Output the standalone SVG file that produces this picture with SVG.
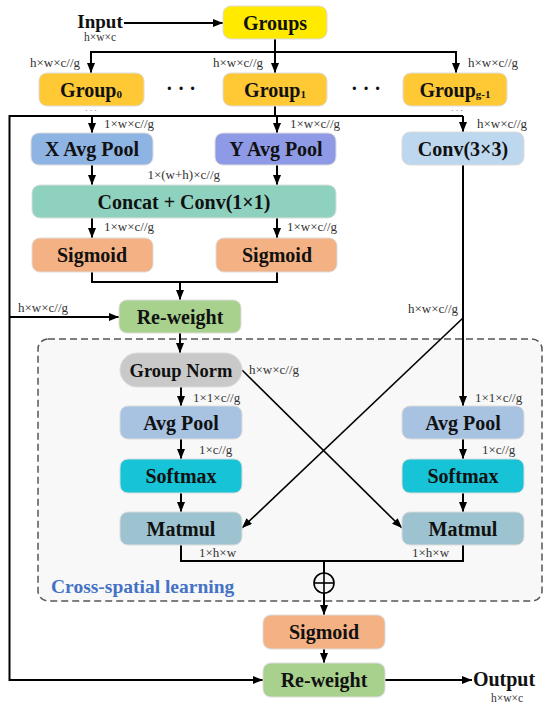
<svg xmlns="http://www.w3.org/2000/svg" width="550" height="706" viewBox="0 0 550 706">
<defs>
<marker id="ah" viewBox="0 0 10 8" refX="10" refY="4" markerWidth="10" markerHeight="8" markerUnits="userSpaceOnUse" orient="auto"><path d="M0,0L10,4L0,8z" fill="#000"/></marker>
<style>
.box{stroke:#dcdcdc;stroke-width:1}
.t{font-family:"Liberation Serif","Times New Roman",serif;font-weight:bold;font-size:20px;text-anchor:middle;fill:#111}
.s{font-family:"Liberation Serif","Times New Roman",serif;font-size:13px;fill:#333}
.c{fill:none;stroke:#000;stroke-width:2}
.cx{fill:none;stroke:#000;stroke-width:1.6}
.a{marker-end:url(#ah)}
</style>
</defs>
<rect width="550" height="706" fill="#fff"/>
<g id="cross-spatial">
<rect x="38" y="339" width="504" height="262" rx="10" fill="#f8f8f8" stroke="#555" stroke-width="1.5" stroke-dasharray="7,4"/>
<text x="51" y="593" font-family="Liberation Serif,serif" font-weight="bold" font-size="19.5" fill="#4472c4">Cross-spatial learning</text>
</g>
<g id="connectors">
<line class="c a" x1="124" y1="23" x2="223" y2="23"/>
<polyline class="c" points="275,39 275,52"/>
<polyline class="c" points="91,71 91,52 456,52 456,71"/>
<line class="c a" x1="91" y1="52" x2="91" y2="73"/>
<line class="c a" x1="275" y1="52" x2="275" y2="73"/>
<line class="c a" x1="456" y1="52" x2="456" y2="73"/>
<polyline class="c" points="275,106 275,116"/>
<polyline class="c" points="9.5,116 463,116"/>
<line class="c a" x1="92" y1="116" x2="92" y2="133"/>
<line class="c a" x1="277" y1="116" x2="277" y2="133"/>
<line class="c a" x1="463" y1="116" x2="463" y2="132"/>
<line class="c a" x1="92" y1="165" x2="92" y2="185"/>
<line class="c a" x1="277" y1="165" x2="277" y2="185"/>
<line class="c a" x1="92" y1="218" x2="92" y2="238"/>
<line class="c a" x1="277" y1="218" x2="277" y2="238"/>
<polyline class="c" points="92,272 92,282 277,282 277,272"/>
<line class="c a" x1="180" y1="282" x2="180" y2="300"/>
<polyline class="c" points="9.5,115 9.5,680 263,680"/>
<line class="c a" x1="200" y1="680" x2="263" y2="680"/>
<line class="c a" x1="9.5" y1="317" x2="119" y2="317"/>
<line class="c a" x1="180" y1="333" x2="180" y2="353"/>
<line class="c a" x1="181" y1="387" x2="181" y2="406"/>
<line class="c a" x1="181" y1="439" x2="181" y2="459"/>
<line class="c a" x1="181" y1="493" x2="181" y2="512"/>
<line class="c a" x1="463" y1="165" x2="463" y2="406"/>
<line class="c a" x1="463" y1="439" x2="463" y2="459"/>
<line class="c a" x1="463" y1="493" x2="463" y2="512"/>
<line class="cx a" x1="242" y1="370" x2="402" y2="528"/>
<line class="cx a" x1="463" y1="318" x2="242" y2="528"/>
<polyline class="c" points="181,545 181,561 463,561 463,545"/>
<line class="c" x1="324" y1="561" x2="324" y2="573"/>
<circle cx="324" cy="583" r="10" fill="none" stroke="#000" stroke-width="1.6"/>
<line x1="314" y1="583" x2="334" y2="583" stroke="#000" stroke-width="1.6"/>
<line x1="324" y1="573" x2="324" y2="593" stroke="#000" stroke-width="1.6"/>
<line class="c a" x1="324" y1="593" x2="324" y2="615"/>
<line class="c a" x1="324" y1="649" x2="324" y2="663"/>
<line class="c a" x1="385" y1="680" x2="472" y2="680"/>
</g>
<g id="labels">
<text class="t" x="100" y="28" style="font-size:19px">Input</text>
<text class="s" x="100" y="40.5" text-anchor="middle" style="font-size:11.5px">h×w×c</text>
<text class="s" x="30" y="67">h×w×c//g</text>
<text class="s" x="213" y="67">h×w×c//g</text>
<text class="s" x="468" y="67">h×w×c//g</text>
<text class="t" x="181" y="95">· · ·</text>
<text class="t" x="366" y="95">· · ·</text>
<text class="s" x="91" y="113" text-anchor="middle" style="font-size:8px">· · ·</text>
<text class="s" x="457" y="113" text-anchor="middle" style="font-size:8px">· · ·</text>
<text class="s" x="104" y="128">1×w×c//g</text>
<text class="s" x="290" y="128">1×w×c//g</text>
<text class="s" x="477" y="128">h×w×c//g</text>
<text class="s" x="220" y="179" text-anchor="end">1×(w+h)×c//g</text>
<text class="s" x="104" y="231">1×w×c//g</text>
<text class="s" x="287" y="231">1×w×c//g</text>
<text class="s" x="18" y="312">h×w×c//g</text>
<text class="s" x="408" y="313">h×w×c//g</text>
<text class="s" x="249" y="374">h×w×c//g</text>
<text class="s" x="193" y="402">1×1×c//g</text>
<text class="s" x="475" y="402">1×1×c//g</text>
<text class="s" x="199" y="454">1×c//g</text>
<text class="s" x="482" y="454">1×c//g</text>
<text class="s" x="199" y="557">1×h×w</text>
<text class="s" x="412" y="557">1×h×w</text>
<text class="t" x="504" y="686">Output</text>
<text class="s" x="507" y="702" text-anchor="middle" style="font-size:11.5px">h×w×c</text>
</g>
<g id="groups"><rect class="box" x="223" y="6" width="104" height="33" rx="8" fill="#ffea00"/><text class="t" x="275" y="29.5">Groups</text></g>
<g id="group0"><rect class="box" x="39" y="73" width="105" height="33" rx="8" fill="#ffc936"/><text class="t" x="91" y="96.5">Group<tspan style="font-size:11px" dy="1">0</tspan></text></g>
<g id="group1"><rect class="box" x="223" y="73" width="104" height="33" rx="8" fill="#ffc936"/><text class="t" x="275" y="96.5">Group<tspan style="font-size:11px" dy="1">1</tspan></text></g>
<g id="groupg1"><rect class="box" x="403" y="73" width="104" height="33" rx="8" fill="#ffc936"/><text class="t" x="455" y="96.5">Group<tspan style="font-size:11px" dy="1">g-1</tspan></text></g>
<g id="xavgpool"><rect class="box" x="31" y="133" width="122" height="32" rx="8" fill="#8eb4e3"/><text class="t" x="92" y="156">X Avg Pool</text></g>
<g id="yavgpool"><rect class="box" x="215" y="133" width="121" height="32" rx="8" fill="#8f9ae6"/><text class="t" x="276" y="156">Y Avg Pool</text></g>
<g id="conv3"><rect class="box" x="402" y="132" width="122" height="33" rx="8" fill="#bdd7ee"/><text class="t" x="463" y="155.5">Conv(3×3)</text></g>
<g id="concat"><rect class="box" x="32" y="185" width="304" height="33" rx="8" fill="#8fd1bf"/><text class="t" x="184" y="208.5">Concat + Conv(1×1)</text></g>
<g id="sigmoid1"><rect class="box" x="32" y="238" width="121" height="34" rx="8" fill="#f4b183"/><text class="t" x="92" y="262">Sigmoid</text></g>
<g id="sigmoid2"><rect class="box" x="216" y="238" width="121" height="34" rx="8" fill="#f4b183"/><text class="t" x="277" y="262">Sigmoid</text></g>
<g id="reweight1"><rect class="box" x="119" y="300" width="122" height="33" rx="8" fill="#a9d18e"/><text class="t" x="180" y="323.5">Re-weight</text></g>
<g id="groupnorm"><rect class="box" x="120" y="353" width="122" height="34" rx="17" fill="#c9c9c9"/><text class="t" x="181" y="376.5" style="font-size:18.5px">Group Norm</text></g>
<g id="avgpool1"><rect class="box" x="120" y="406" width="122" height="33" rx="8" fill="#a8c2e2"/><text class="t" x="181" y="429.5">Avg Pool</text></g>
<g id="avgpool2"><rect class="box" x="402" y="406" width="122" height="33" rx="8" fill="#a8c2e2"/><text class="t" x="463" y="429.5">Avg Pool</text></g>
<g id="softmax1"><rect class="box" x="120" y="459" width="122" height="34" rx="8" fill="#17c3d6"/><text class="t" x="181" y="483">Softmax</text></g>
<g id="softmax2"><rect class="box" x="402" y="459" width="122" height="34" rx="8" fill="#17c3d6"/><text class="t" x="463" y="483">Softmax</text></g>
<g id="matmul1"><rect class="box" x="120" y="512" width="122" height="33" rx="8" fill="#9cc3cf"/><text class="t" x="181" y="535.5">Matmul</text></g>
<g id="matmul2"><rect class="box" x="402" y="512" width="122" height="33" rx="8" fill="#9cc3cf"/><text class="t" x="463" y="535.5">Matmul</text></g>
<g id="sigmoid3"><rect class="box" x="263" y="615" width="122" height="34" rx="8" fill="#f4b183"/><text class="t" x="324" y="639">Sigmoid</text></g>
<g id="reweight2"><rect class="box" x="263" y="663" width="122" height="34" rx="8" fill="#a9d18e"/><text class="t" x="324" y="687">Re-weight</text></g>
</svg>
